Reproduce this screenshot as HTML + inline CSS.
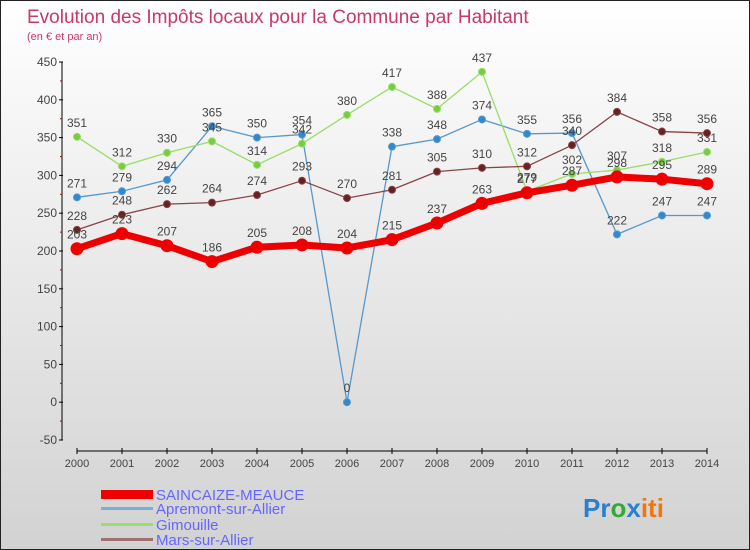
<!DOCTYPE html>
<html><head><meta charset="utf-8"><style>
body{margin:0}
#wrap{width:750px;height:550px;position:relative;background:linear-gradient(#ffffff,#d2d2d2);border:1px solid #222;box-sizing:border-box;font-family:"Liberation Sans",sans-serif;overflow:hidden}
svg text{font-family:"Liberation Sans",sans-serif}
</style></head><body>
<div id="wrap">
<svg id="c" width="750" height="550">
<text x="26" y="22" font-size="19" fill="#c8386a">Evolution des Impôts locaux pour la Commune par Habitant</text>
<text x="26" y="39" font-size="11" fill="#c8386a">(en € et par an)</text>
<g id="axes"></g><g id="series"></g>
<g>
<rect x="100" y="489" width="52" height="9" fill="#e00"/>
<text x="155" y="499" font-size="15" fill="#6666ff">SAINCAIZE-MEAUCE</text>
<rect x="100" y="506" width="52" height="3" fill="#7aaed6"/>
<text x="155" y="513" font-size="15" fill="#6666ff">Apremont-sur-Allier</text>
<rect x="100" y="522" width="52" height="3" fill="#99dd77"/>
<text x="155" y="529" font-size="15" fill="#6666ff">Gimouille</text>
<rect x="100" y="537" width="52" height="3" fill="#a07070"/>
<text x="155" y="544" font-size="15" fill="#6666ff">Mars-sur-Allier</text>
</g>
<text x="582" y="516" font-size="26" font-weight="bold"><tspan fill="#2a7fd0">Pr</tspan><tspan fill="#33aa33">o</tspan><tspan fill="#2a7fd0">x</tspan><tspan fill="#ee7711">iti</tspan></text>
</svg></div>
<script>
const years=[2000,2001,2002,2003,2004,2005,2006,2007,2008,2009,2010,2011,2012,2013,2014];
const yTicks=[-50,0,50,100,150,200,250,300,350,400,450];
const saincaize=[203,223,207,186,205,208,204,215,237,263,277,287,298,295,289];
const apremont=[271,279,294,365,350,354,0,338,348,374,355,356,222,247,247];
const gimouille=[351,312,330,345,314,342,380,417,388,437,279,302,307,318,331];
const mars=[228,248,262,264,274,293,270,281,305,310,312,340,384,358,356];
const NS='http://www.w3.org/2000/svg';
const X=i=>76+i*45;
const Y=v=>401.2-v*0.756;
function mk(p,t,a){const e=document.createElementNS(NS,t);for(const k in a)e.setAttribute(k,a[k]);p.appendChild(e);return e;}
const ax=document.getElementById('axes');
let l=mk(ax,'line',{x1:61,y1:Y(450),x2:61,y2:Y(-50),stroke:'#000'});


yTicks.forEach((v,i)=>{
 mk(ax,'line',{x1:58,y1:Y(v),x2:62,y2:Y(v),stroke:'#000'});
 if(i<yTicks.length-1)mk(ax,'line',{x1:59,y1:Y(v+25),x2:61,y2:Y(v+25),stroke:'#c00'});
 const t=mk(ax,'text',{x:56,y:Y(v)+4,'font-size':12,'text-anchor':'end',fill:'#444'});
 t.textContent=v;
 
 
});
l=mk(ax,'line',{x1:X(0),y1:450,x2:X(14),y2:450,stroke:'#000'});


years.forEach((y,i)=>{
 mk(ax,'line',{x1:X(i),y1:447,x2:X(i),y2:453,stroke:'#000'});
 const t=mk(ax,'text',{x:X(i),y:466,'font-size':11,'text-anchor':'middle',fill:'#444'});
 t.textContent=y;
 
 
});
const sg=document.getElementById('series');
function draw(d,name,col,pt,w,r){
 const g=mk(sg,'g',{});
 
 
 mk(g,'polyline',{points:d.map((v,i)=>X(i)+','+Y(v)).join(' '),fill:'none',stroke:col,'stroke-width':w,'stroke-linejoin':'round'});
 d.forEach((v,i)=>{
  const c=mk(g,'circle',{cx:X(i),cy:Y(v),r:r,fill:pt,stroke:col,'stroke-width':1});
  
  
  const t=mk(g,'text',{x:X(i),y:Y(v)-10,'font-size':12,'text-anchor':'middle',fill:'#444'});
  t.textContent=v;
  
  
 });
}
draw(apremont,'apremont','#5599cc','#3388cc',1.3,3.5);
draw(gimouille,'gimouille','#99dd66','#77cc44',1.3,3.5);
draw(mars,'mars','#884444','#662222',1.3,3.5);
draw(saincaize,'saincaize','#ee0000','#ee0000',7,6);
</script>
</body></html>
